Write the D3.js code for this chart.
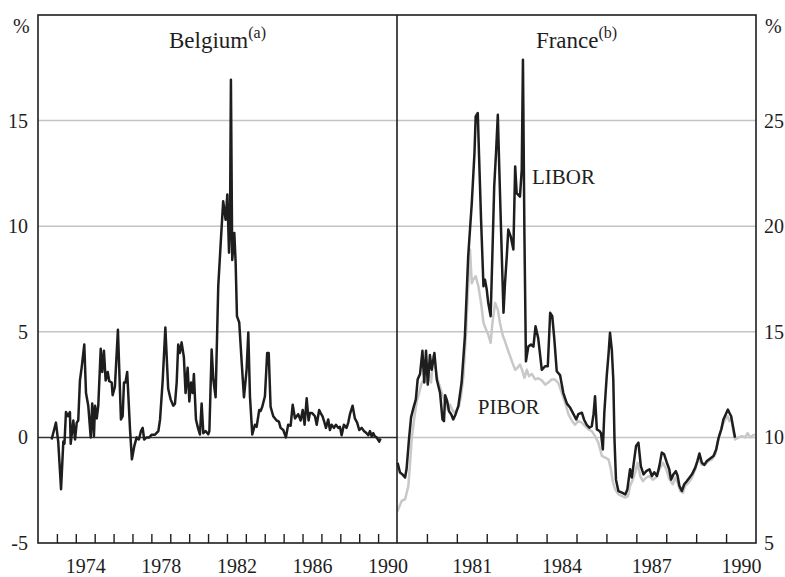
<!DOCTYPE html>
<html>
<head>
<meta charset="utf-8">
<script src="https://cdn.jsdelivr.net/npm/d3@7"></script>
<style>
  html, body { margin: 0; padding: 0; background: #fff; }
  svg { display: block; }
</style>
</head>
<body>
<svg id="chart" width="785" height="577" font-family="Liberation Serif, Times New Roman, serif"></svg>
<script>
// ---------------- DATA ----------------
const belgiumYears = [1972.72,1972.95,1973.07,1973.22,1973.34,1973.40,1973.48,1973.59,1973.69,1973.73,1973.87,1973.96,1974.05,1974.13,1974.22,1974.31,1974.45,1974.54,1974.66,1974.79,1974.87,1974.96,1975.02,1975.11,1975.19,1975.32,1975.40,1975.49,1975.58,1975.69,1975.77,1975.90,1975.95,1976.07,1976.23,1976.39,1976.48,1976.55,1976.63,1976.72,1976.87,1976.97,1977.10,1977.22,1977.34,1977.45,1977.54,1977.62,1977.75,1977.89,1978.02,1978.19,1978.37,1978.46,1978.60,1978.74,1978.89,1979.02,1979.16,1979.25,1979.34,1979.42,1979.51,1979.60,1979.72,1979.81,1979.92,1980.01,1980.10,1980.19,1980.25,1980.36,1980.48,1980.57,1980.66,1980.75,1980.87,1981.01,1981.07,1981.19,1981.28,1981.40,1981.54,1981.67,1981.80,1981.93,1982.02,1982.11,1982.16,1982.21,1982.28,1982.39,1982.46,1982.53,1982.65,1982.78,1982.90,1983.04,1983.13,1983.22,1983.34,1983.48,1983.57,1983.71,1983.78,1983.87,1984.01,1984.13,1984.21,1984.31,1984.45,1984.63,1984.75,1984.84,1984.98,1985.12,1985.24,1985.37,1985.48,1985.60,1985.77,1985.90,1986.01,1986.11,1986.22,1986.32,1986.39,1986.51,1986.66,1986.75,1986.88,1986.96,1987.06,1987.13,1987.24,1987.36,1987.45,1987.54,1987.66,1987.77,1987.89,1987.98,1988.07,1988.19,1988.33,1988.42,1988.51,1988.65,1988.77,1988.89,1989.00,1989.13,1989.25,1989.39,1989.48,1989.57,1989.66,1989.74,1989.83,1989.92,1990.06,1990.13];
const belgiumValues = [-0.1,0.7,-0.2,-2.45,-0.2,-0.3,1.2,1.0,1.2,-0.3,0.8,-0.1,0.7,0.8,2.7,3.3,4.4,2.1,1.5,0.0,1.6,0.06,1.5,0.9,1.5,4.2,3.1,4.1,2.7,3.1,2.66,2.6,2.0,2.4,5.1,0.85,1.0,2.6,2.6,3.1,0.38,-1.04,-0.4,0.0,-0.1,0.3,0.45,-0.1,0.0,0.0,0.13,0.13,0.3,0.85,2.7,5.2,2.3,1.8,1.5,1.6,2.6,4.4,4.0,4.5,3.8,2.1,3.3,1.7,2.6,2.1,3.0,0.85,0.4,0.14,1.6,0.2,0.3,0.15,0.3,4.16,2.74,1.9,7.16,9.2,11.18,10.3,11.5,8.75,9.84,16.93,8.4,9.68,8.28,5.74,5.44,3.55,1.9,3.2,4.97,1.9,0.14,0.6,0.5,1.3,1.25,1.45,1.95,4.0,4.0,1.45,1.0,0.8,0.75,0.45,0.35,0.0,0.6,0.55,1.55,0.9,1.1,0.8,1.3,0.6,1.85,0.8,1.15,1.15,1.0,0.6,1.3,1.15,1.0,0.8,0.45,0.85,0.35,0.6,0.45,0.6,0.45,0.5,0.1,0.6,0.45,0.7,1.1,1.5,0.9,0.7,0.35,0.45,0.3,0.2,0.1,0.3,0.05,0.2,0.05,0.0,-0.2,-0.05];

const liborYears = [1979.02,1979.10,1979.18,1979.27,1979.32,1979.40,1979.47,1979.55,1979.63,1979.69,1979.77,1979.85,1979.91,1979.97,1980.03,1980.10,1980.16,1980.25,1980.33,1980.44,1980.52,1980.57,1980.61,1980.68,1980.74,1980.81,1980.88,1980.96,1981.05,1981.16,1981.27,1981.38,1981.50,1981.59,1981.63,1981.70,1981.74,1981.81,1981.89,1981.94,1982.00,1982.05,1982.13,1982.19,1982.25,1982.31,1982.37,1982.42,1982.50,1982.56,1982.61,1982.67,1982.72,1982.80,1982.89,1982.95,1983.00,1983.11,1983.17,1983.21,1983.26,1983.31,1983.39,1983.48,1983.56,1983.63,1983.72,1983.84,1983.95,1984.04,1984.12,1984.19,1984.26,1984.34,1984.45,1984.56,1984.68,1984.79,1984.90,1984.99,1985.06,1985.18,1985.25,1985.34,1985.43,1985.51,1985.57,1985.62,1985.68,1985.77,1985.82,1985.88,1985.93,1986.01,1986.07,1986.12,1986.18,1986.23,1986.27,1986.32,1986.40,1986.52,1986.63,1986.70,1986.79,1986.85,1986.93,1986.99,1987.07,1987.15,1987.24,1987.33,1987.44,1987.52,1987.60,1987.69,1987.77,1987.85,1987.93,1988.02,1988.10,1988.16,1988.24,1988.32,1988.38,1988.44,1988.52,1988.60,1988.69,1988.78,1988.86,1988.97,1989.04,1989.11,1989.19,1989.27,1989.36,1989.47,1989.58,1989.67,1989.75,1989.84,1989.91,1989.99,1990.06,1990.11,1990.17,1990.23,1990.30];
const liborValues = [8.8,8.34,8.25,8.1,8.5,9.9,10.95,11.4,11.8,12.74,13.0,14.1,12.6,14.1,12.5,13.9,13.2,14.0,12.74,12.1,10.85,10.77,12.0,11.7,11.24,11.1,10.85,11.1,11.48,12.6,14.8,18.58,21.1,23.47,25.2,25.36,23.47,20.3,17.16,17.47,17.0,16.37,15.74,18.74,21.9,23.47,25.28,22.68,18.74,15.9,17.3,18.58,19.84,19.52,18.9,22.83,21.57,21.4,22.68,27.88,19.5,13.6,14.3,14.4,14.3,15.26,14.7,13.2,13.37,13.37,15.9,15.74,14.63,13.13,12.95,12.1,11.6,11.4,11.1,10.85,11.1,11.17,10.85,10.6,10.46,10.53,11.1,11.95,10.38,10.3,10.2,9.43,11.17,12.9,13.93,14.95,14.16,12.74,9.9,8.0,7.46,7.38,7.3,7.54,8.49,8.1,8.96,9.59,9.75,8.64,8.25,8.4,8.49,8.17,8.35,8.17,8.64,9.28,9.2,8.8,8.49,8.0,8.25,8.4,8.17,7.7,7.46,7.78,7.93,8.1,8.25,8.57,8.88,9.24,8.8,8.7,8.88,9.0,9.12,9.43,9.98,10.38,10.85,11.1,11.32,11.17,11.0,10.53,9.98];

const piborYears = [1979.02,1979.04,1979.16,1979.27,1979.38,1979.43,1979.49,1979.58,1979.66,1979.74,1979.83,1979.91,1979.99,1980.05,1980.14,1980.21,1980.27,1980.36,1980.44,1980.53,1980.61,1980.70,1980.77,1980.85,1980.92,1980.99,1981.07,1981.14,1981.22,1981.31,1981.39,1981.44,1981.50,1981.55,1981.63,1981.72,1981.81,1981.89,1981.98,1982.05,1982.13,1982.19,1982.28,1982.37,1982.44,1982.54,1982.61,1982.70,1982.78,1982.86,1982.95,1983.03,1983.11,1983.18,1983.26,1983.34,1983.41,1983.51,1983.62,1983.72,1983.84,1983.95,1984.06,1984.17,1984.28,1984.39,1984.51,1984.62,1984.73,1984.84,1984.95,1985.06,1985.18,1985.29,1985.40,1985.51,1985.62,1985.73,1985.85,1985.96,1986.07,1986.15,1986.21,1986.29,1986.40,1986.52,1986.63,1986.72,1986.79,1986.88,1986.96,1987.04,1987.13,1987.22,1987.33,1987.44,1987.55,1987.66,1987.77,1987.89,1988.00,1988.11,1988.22,1988.30,1988.38,1988.47,1988.56,1988.63,1988.74,1988.86,1988.97,1989.08,1989.19,1989.30,1989.41,1989.53,1989.64,1989.71,1989.80,1989.89,1989.97,1990.05,1990.11,1990.17,1990.23,1990.30,1990.42,1990.53,1990.64,1990.72,1990.81,1990.90,1990.97];
const piborValues = [6.5,6.6,7.0,7.07,7.7,8.64,9.9,10.95,11.7,12.1,12.6,12.74,12.6,13.13,12.6,13.85,13.37,12.74,12.37,11.95,11.7,11.3,11.56,11.3,11.17,11.3,11.48,11.95,12.9,15.0,17.5,18.9,17.3,17.47,17.63,17.16,16.37,15.43,15.1,14.87,14.48,15.43,16.37,16.05,15.43,14.8,14.55,14.16,13.85,13.53,13.2,13.3,13.45,13.2,12.82,13.2,12.9,13.0,12.75,12.8,12.7,12.5,12.6,12.74,12.74,12.58,12.1,11.64,11.1,10.8,10.6,10.77,10.7,10.53,10.38,10.3,10.06,9.75,9.12,9.04,8.96,8.49,7.93,7.54,7.3,7.22,7.15,7.22,7.7,8.0,8.33,8.8,8.17,7.93,8.1,8.17,8.0,8.1,8.49,8.8,8.49,8.0,7.78,8.1,7.85,7.46,7.38,7.7,7.85,8.1,8.49,9.04,8.7,8.7,8.88,8.96,9.2,9.75,10.22,10.6,10.85,11.0,10.77,10.93,10.38,9.9,10.0,10.06,10.0,10.2,10.0,10.1,10.13];

const leftYearLabels = [1974, 1978, 1982, 1986, 1990];
const rightYearLabels = [1981, 1984, 1987, 1990];
const leftYTicks = [-5, 0, 5, 10, 15];
const leftGrid = [5, 10, 15];
const rightYTicks = [5, 10, 15, 20, 25];
const rightGrid = [10, 15, 20, 25];

// ---------------- LAYOUT ----------------
const L = 38, M = 397, R = 756, T = 15, B = 543;
const FONT = "Liberation Serif, Times New Roman, serif";
const svg = d3.select("#chart");

const xL = d3.scaleLinear().domain([1972, 1991]).range([L, M]);
const xR = d3.scaleLinear().domain([1979, 1991]).range([M, R]);
const yL = d3.scaleLinear().domain([-5, 20]).range([B, T]);
const yR = d3.scaleLinear().domain([5, 30]).range([B, T]);

const dark = "#1e1e1e";
const gridCol = "#c4c4c4";
const piborCol = "#c8c8c8";

// gridlines
svg.append("g").selectAll("line").data(leftGrid).join("line")
  .attr("x1", L).attr("x2", M).attr("y1", d => yL(d)).attr("y2", d => yL(d))
  .attr("stroke", gridCol).attr("stroke-width", 1.5);
svg.append("line").attr("x1", L).attr("x2", M).attr("y1", yL(0)).attr("y2", yL(0))
  .attr("stroke", "#333").attr("stroke-width", 1.5);
svg.append("g").selectAll("line").data(rightGrid).join("line")
  .attr("x1", M).attr("x2", R).attr("y1", d => yR(d)).attr("y2", d => yR(d))
  .attr("stroke", gridCol).attr("stroke-width", 1.5);

// lines
const lineL = d3.line().x(d => xL(d[0])).y(d => yL(d[1]));
const lineR = d3.line().x(d => xR(d[0])).y(d => yR(d[1]));

svg.append("path").datum(d3.zip(belgiumYears, belgiumValues)).attr("d", lineL)
  .attr("fill", "none").attr("stroke", dark).attr("stroke-width", 2.5).attr("stroke-linejoin", "round");
svg.append("path").datum(d3.zip(piborYears, piborValues)).attr("d", lineR)
  .attr("fill", "none").attr("stroke", piborCol).attr("stroke-width", 2.5).attr("stroke-linejoin", "round");
svg.append("path").datum(d3.zip(liborYears, liborValues)).attr("d", lineR)
  .attr("fill", "none").attr("stroke", dark).attr("stroke-width", 2.5).attr("stroke-linejoin", "round");

// frame
svg.append("rect").attr("x", L).attr("y", T).attr("width", R - L).attr("height", B - T)
  .attr("fill", "none").attr("stroke", dark).attr("stroke-width", 1.6);
svg.append("line").attr("x1", M).attr("x2", M).attr("y1", T).attr("y2", B)
  .attr("stroke", dark).attr("stroke-width", 1.6);

// x ticks (inward) each year
const tickStyle = g => { g.select(".domain").remove(); g.selectAll("line").attr("stroke", dark).attr("stroke-width", 1.4); g.selectAll("text").remove(); };
svg.append("g").attr("transform", `translate(0,${B})`)
  .call(d3.axisBottom(xL).tickValues(d3.range(1973, 1991)).tickSize(-9)).call(tickStyle);
svg.append("g").attr("transform", `translate(0,${B})`)
  .call(d3.axisBottom(xR).tickValues(d3.range(1980, 1991)).tickSize(-9)).call(tickStyle);

// x labels (centered in the year)
const labStyle = g => { g.attr("font-family", FONT); g.select(".domain").remove(); g.selectAll("line").remove();
  g.selectAll("text").attr("font-size", 20).attr("fill", dark).attr("font-family", FONT); };
svg.append("g").attr("transform", `translate(0,${B})`)
  .call(d3.axisBottom(xL).tickValues(leftYearLabels.map(d => d + 0.5)).tickSize(0).tickPadding(16).tickFormat(d => Math.floor(d)))
  .call(labStyle);
svg.append("g").attr("transform", `translate(0,${B})`)
  .call(d3.axisBottom(xR).tickValues(rightYearLabels.map(d => d + 0.5)).tickSize(0).tickPadding(16).tickFormat(d => Math.floor(d)))
  .call(labStyle);

// y labels
svg.append("g").attr("transform", `translate(${L},0)`)
  .call(d3.axisLeft(yL).tickValues(leftYTicks).tickSize(0).tickPadding(10).tickFormat(d => d))
  .call(labStyle);
svg.append("g").attr("transform", `translate(${R},0)`)
  .call(d3.axisRight(yR).tickValues(rightYTicks).tickSize(0).tickPadding(8).tickFormat(d => d))
  .call(labStyle);

// % units
svg.append("text").attr("x", 13).attr("y", 33).attr("font-size", 20).attr("fill", dark).text("%");
svg.append("text").attr("x", 765).attr("y", 33).attr("font-size", 20).attr("fill", dark).text("%");

// titles
function title(cx, name, note) {
  const t = svg.append("text").attr("x", cx).attr("y", 48).attr("text-anchor", "middle")
    .attr("font-size", 23).attr("fill", dark);
  t.append("tspan").text(name);
  t.append("tspan").attr("font-size", 16).attr("dy", -10).text(note);
}
title((L + M) / 2, "Belgium", "(a)");
title((M + R) / 2, "France", "(b)");

// series labels
svg.append("text").attr("x", xR(1983.51)).attr("y", 184).attr("font-size", 21).attr("fill", dark).text("LIBOR");
svg.append("text").attr("x", xR(1981.7)).attr("y", 414).attr("font-size", 21).attr("fill", dark).text("PIBOR");
</script>
</body>
</html>
